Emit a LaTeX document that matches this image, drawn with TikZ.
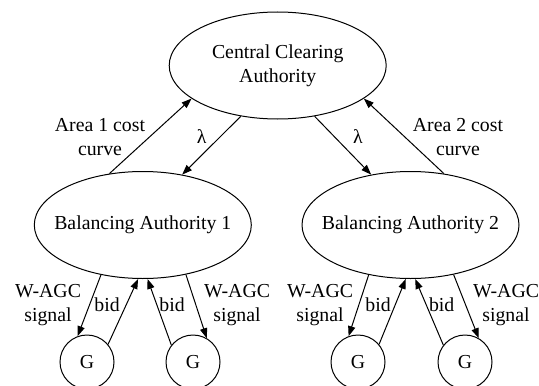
\documentclass[tikz,border=0pt]{standalone}
\usepackage{fontspec}
\setmainfont{Liberation Serif}
\usetikzlibrary{shapes.geometric,arrows.meta,positioning}

\begin{document}
\begin{tikzpicture}[x=0.5pt,y=-0.5pt,
    font=\fontsize{9.9pt}{12pt}\selectfont,
    authority/.style={ellipse, draw, line width=0.5pt, minimum width=108.5pt, minimum height=53.5pt, inner xsep=-15pt, inner ysep=0pt, align=center},
    gen/.style={circle, draw, line width=0.5pt, minimum size=27pt, inner sep=0pt},
    lbl/.style={align=center, inner sep=1pt},
    flow/.style={-{Triangle[length=5pt,width=3.6pt]}, line width=0.5pt}]
  \useasboundingbox (0,0) rectangle (539,385);

  % authorities
  \node[authority] (cca) at (277.7,65.5) {Central Clearing\\Authority};
  \node[authority] (ba1) at (142.8,225) {Balancing Authority 1};
  \node[authority] (ba2) at (410.5,225) {Balancing Authority 2};

  % generators
  \node[gen] (g11) at (87,362) {G};
  \node[gen] (g12) at (193,362) {G};
  \node[gen] (g21) at (358,362) {G};
  \node[gen] (g22) at (465,362) {G};

  % upper level
  \draw[flow] (ba1.123) -- (cca.201);
  \draw[flow] (cca.234) -- (ba1.52);
  \draw[flow] (cca.306) -- (ba2.128);
  \draw[flow] (ba2.57) -- (cca.339);
  \node[lbl] (cost1) at (100,137) {Area 1 cost\\curve};
  \node[lbl] (lam1) at (201.7,137) {λ};
  \node[lbl] (lam2) at (358,137) {λ};
  \node[lbl] (cost2) at (458,137) {Area 2 cost\\curve};

  % lower level
  \draw[flow] (ba1.230) -- (g11.110);
  \draw[flow] (g11.40) -- (ba1.265);
  \draw[flow] (g12.142) -- (ba1.275);
  \draw[flow] (ba1.311) -- (g12.60);
  \draw[flow] (ba2.230) -- (g21.110);
  \draw[flow] (g21.40) -- (ba2.265);
  \draw[flow] (g22.142) -- (ba2.275);
  \draw[flow] (ba2.311) -- (g22.60);

  \node[lbl] (agc11) at (48,305) {W-AGC\\signal};
  \node[lbl] (bid11) at (107,305) {bid};
  \node[lbl] (bid12) at (172,305) {bid};
  \node[lbl] (agc12) at (237,305) {W-AGC\\signal};
  \node[lbl] (agc21) at (320,305) {W-AGC\\signal};
  \node[lbl] (bid21) at (378,305) {bid};
  \node[lbl] (bid22) at (441.7,305) {bid};
  \node[lbl] (agc22) at (506,305) {W-AGC\\signal};
\end{tikzpicture}
\end{document}
